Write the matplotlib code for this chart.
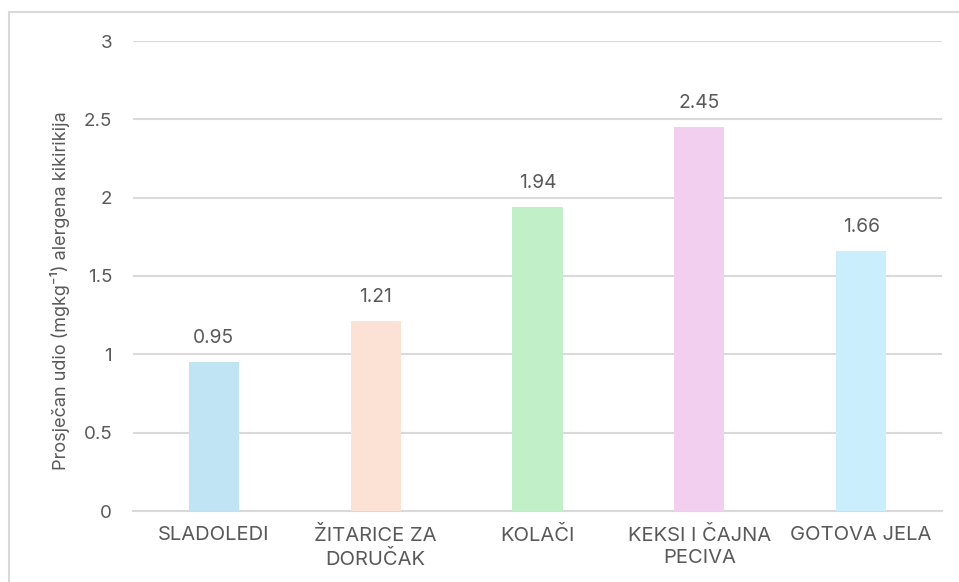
import matplotlib
matplotlib.use("Agg")
import matplotlib.pyplot as plt
from matplotlib.lines import Line2D

categories = ["SLADOLEDI", "ŽITARICE ZA\nDORUČAK", "KOLAČI", "KEKSI I ČAJNA\nPECIVA", "GOTOVA JELA"]
values = [0.95, 1.21, 1.94, 2.45, 1.66]
value_labels = ["0.95", "1.21", "1.94", "2.45", "1.66"]
bar_colors = ["#C1E4F5", "#FBE2D5", "#C1F0C8", "#F2CEEF", "#CAEEFB"]
yticks = [0, 0.5, 1, 1.5, 2, 2.5, 3]
ytick_labels = ["0", "0.5", "1", "1.5", "2", "2.5", "3"]

TXT = "#595959"
GRID = "#D9D9D9"
plt.rcParams['font.family'] = ['Inter', 'DejaVu Sans']

W, H = 959, 582
fig = plt.figure(figsize=(W / 100, H / 100), dpi=100)
ax = fig.add_axes([133 / W, 1 - 511 / H, (942 - 133) / W, (511 - 41) / H])

x = list(range(len(categories)))
bars = ax.bar(x, values, width=0.31, color=bar_colors, zorder=3)
ax.set_xlim(-0.5, len(categories) - 0.5)
ax.set_ylim(0, 3)
ax.set_yticks(yticks)
ax.set_yticklabels(ytick_labels)
ax.set_xticks(x)
ax.set_xticklabels(categories, linespacing=1.35)
ax.yaxis.grid(True, color=GRID, linewidth=1.5, zorder=0)
ax.set_axisbelow(True)
for s in ["top", "right", "left"]:
    ax.spines[s].set_visible(False)
ax.spines["bottom"].set_color(GRID)
ax.spines["bottom"].set_linewidth(1.5)
ax.tick_params(axis="y", length=0, pad=15, labelsize=13.5, labelcolor=TXT)
ax.tick_params(axis="x", length=0, pad=10.5, labelsize=14.5, labelcolor=TXT)

for b, lab in zip(bars, value_labels):
    ax.annotate(lab, (b.get_x() + b.get_width() / 2, b.get_height()),
                xytext=(0, 11), textcoords="offset points",
                ha="center", va="bottom", fontsize=13.8, color=TXT)

ax.set_ylabel("Prosječan udio (mgkg⁻¹) alergena kikirikija", fontsize=13, color=TXT)
ax.yaxis.set_label_coords(70 / W, 0.5, transform=fig.transFigure)

# chart border (top and left edges visible)
fig.add_artist(Line2D([9 / W, 1], [1 - 12 / H, 1 - 12 / H], transform=fig.transFigure, color=GRID, lw=1.5))
fig.add_artist(Line2D([9 / W, 9 / W], [0, 1 - 12 / H], transform=fig.transFigure, color=GRID, lw=1.5))

fig.savefig("out.png", dpi=100, facecolor="white")
